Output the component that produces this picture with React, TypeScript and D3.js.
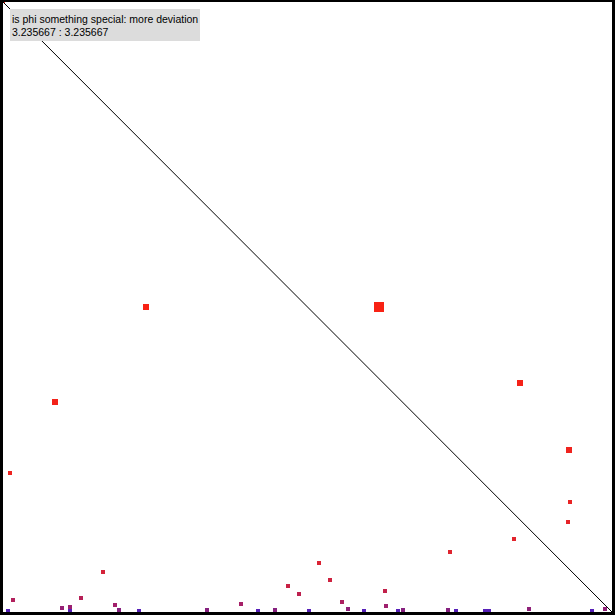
import React from "react";
import * as d3 from "d3";

const MAX_VAL = 3.235667;
const TITLE = "is phi something special: more deviation";
const SUBTITLE = "3.235667 : 3.235667";

// data units (x, y) and a relative weight used for marker size
const xs = [0.0266, 0.0531, 0.3135, 0.356, 0.356, 0.4144, 0.5313, 0.595, 0.6163, 0.7226,
  1.0839, 1.2645, 1.3548, 1.4451, 1.5142, 1.5726, 1.6258, 1.6789, 1.7373, 1.8011,
  1.833, 1.918, 2.0296, 2.0349, 2.0986, 2.1252, 2.3643, 2.4068, 2.5609, 2.5821,
  2.7946, 3.1294, 3.1984, 2.3749, 2.7149, 3.0125, 3.0018, 0.0372, 0.7598, 0.2763,
  1.9977, 2.7469, 3.0072, 0.0];
const ys = [0.0053, 0.0637, 0.0212, 0.0265, 0.0053, 0.0743, 0.2122, 0.0371, 0.0106, 0.0053,
  0.0106, 0.0424, 0.0053, 0.0106, 0.1379, 0.0955, 0.0053, 0.2599, 0.1697, 0.053,
  0.0159, 0.0053, 0.1114, 0.0318, 0.0053, 0.0106, 0.0106, 0.0053, 0.0053, 0.0053,
  0.0159, 0.0053, 0.0159, 0.3183, 0.3872, 0.5835, 0.4774, 0.7373, 1.6178, 1.114,
  1.6178, 1.2147, 0.8593, 3.2357];
const weights = [1, 1, 1, 1, 1, 1, 1, 1, 1, 1,
  1, 1, 1, 1, 1, 1, 1, 1, 1, 1,
  1, 1, 1, 1, 1, 1, 1, 1, 1, 1,
  1, 1, 1, 1, 1, 1, 1, 1, 2, 2,
  4, 2, 2, 0.5];

const W = 615;
const H = 615;

export default function App() {
  const x = d3.scaleLinear().domain([0, MAX_VAL]).range([3, 612]);
  const y = d3.scaleLinear().domain([0, MAX_VAL]).range([612, 2]);
  const size = d3.scaleLinear().domain([0.5, 1, 2, 4]).range([3, 4, 6, 10]);
  const color = d3
    .scaleLog<string>()
    .domain([0.0053, 0.0106, 0.04, 0.12, 0.3, 1.5])
    .range(["#5620b8", "#86207e", "#a4206a", "#c42048", "#de2430", "#f82214"])
    .clamp(true);

  const diag = d3.line<[number, number]>()
    .x((d) => x(d[0]))
    .y((d) => y(d[1]))([[0, MAX_VAL], [MAX_VAL, 0]]);

  const pts = xs.map((v, i) => ({ x: v, y: ys[i], w: weights[i] }));

  return (
    <svg
      width={W}
      height={H}
      style={{ position: "fixed", left: 0, top: 0, display: "block", background: "#fff" }}
    >
      <rect x={0} y={0} width={W} height={H} fill="#fff" />
      {pts.map((p, i) => {
        const s = size(p.w);
        return (
          <rect
            key={i}
            x={Math.round(x(p.x) - s / 2)}
            y={Math.round(y(p.y) - s / 2)}
            width={s}
            height={s}
            fill={color(Math.max(p.y, 0.0053))}
            shapeRendering="crispEdges"
          />
        );
      })}
      <path d={diag ?? ""} stroke="#000" strokeWidth={1} fill="none" />
      <rect x={10} y={9} width={190} height={32} fill="#dcdcdc" />
      <text x={12} y={23} fontFamily="Liberation Sans, Arial, sans-serif" fontSize={10.5} fill="#000">
        {TITLE}
      </text>
      <text x={12} y={36} fontFamily="Liberation Sans, Arial, sans-serif" fontSize={10.5} fill="#000">
        {SUBTITLE}
      </text>
      {/* frame */}
      <rect x={0} y={0} width={W} height={2} fill="#000" />
      <rect x={0} y={0} width={3} height={H} fill="#000" />
      <rect x={W - 3} y={0} width={3} height={H} fill="#000" />
      <rect x={0} y={H - 3} width={W} height={3} fill="#000" />
    </svg>
  );
}
